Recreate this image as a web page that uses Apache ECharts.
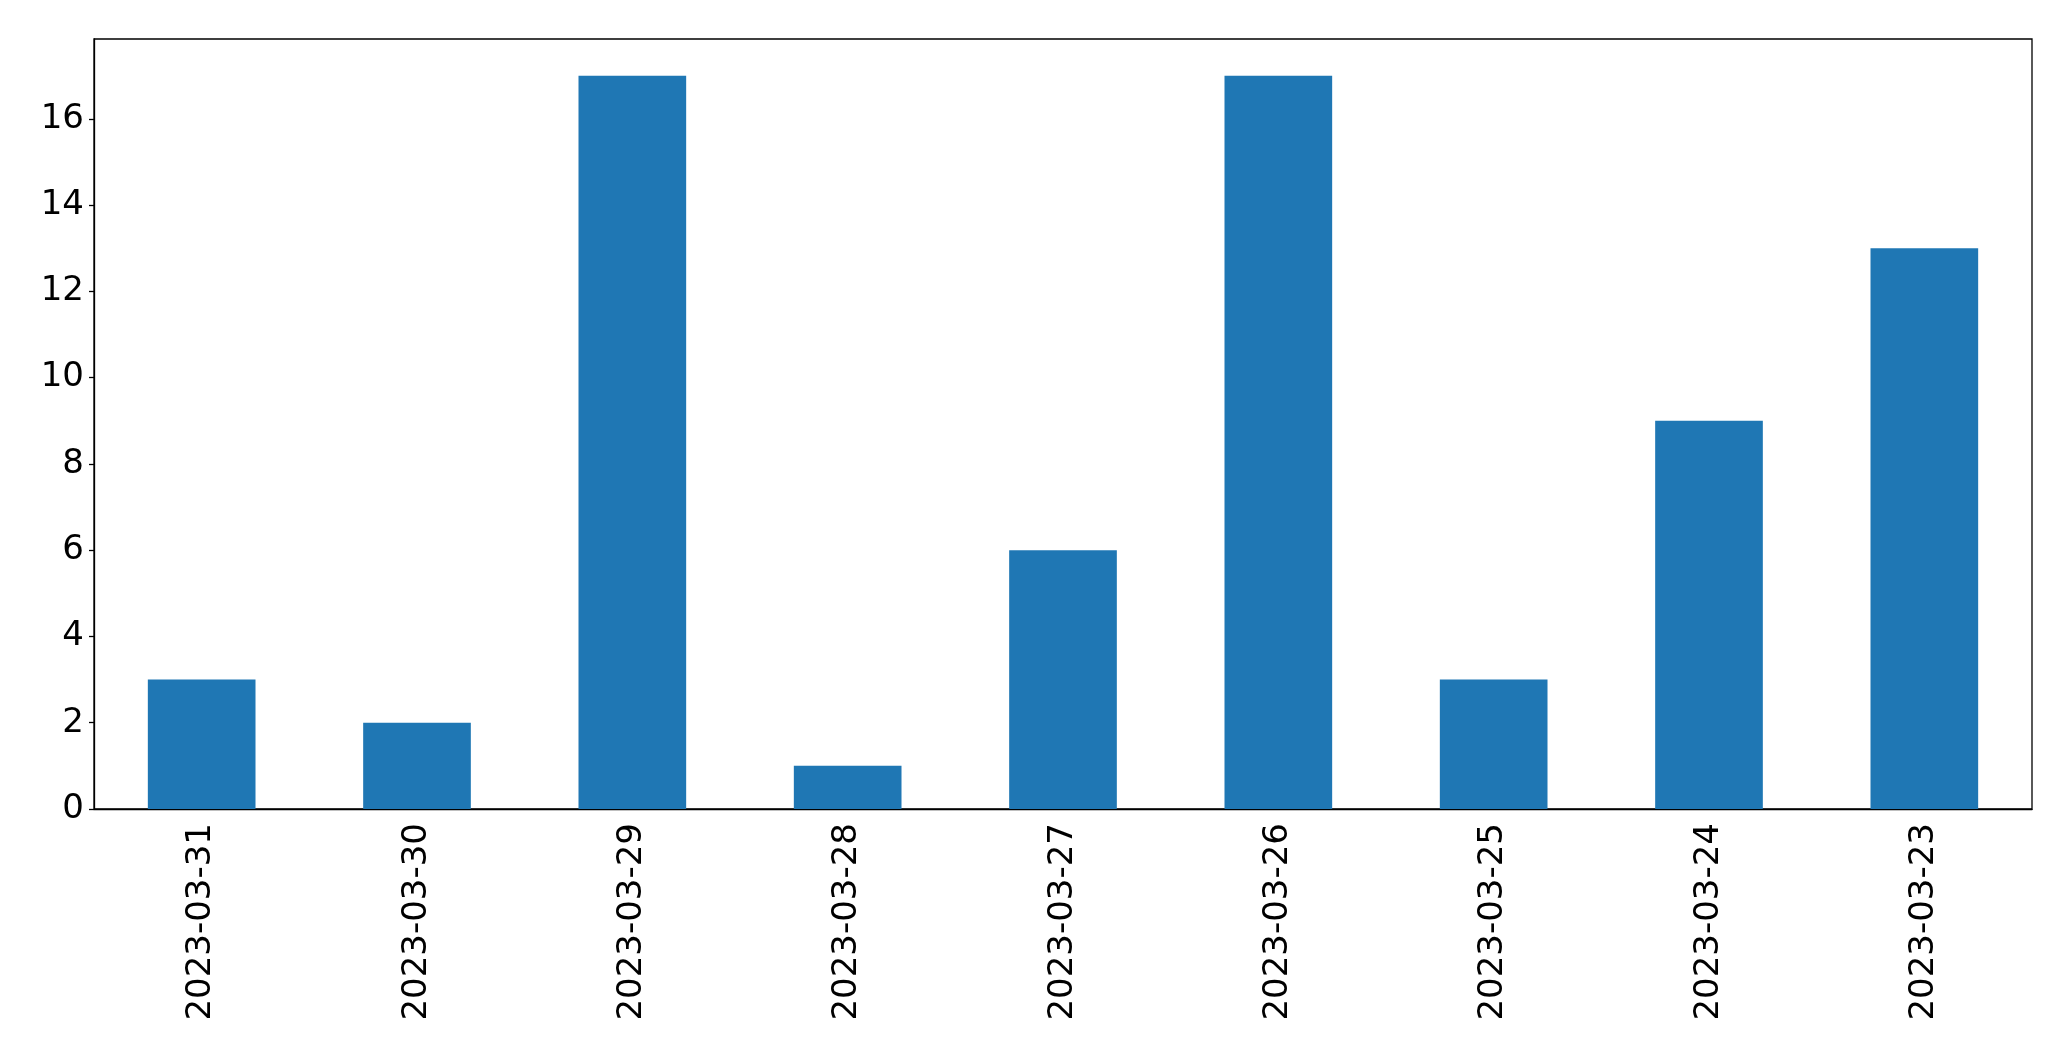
<!DOCTYPE html>
<html>
<head>
<meta charset="utf-8">
<script src="https://cdn.jsdelivr.net/npm/echarts@6/dist/echarts.min.js"></script>
<style>
html,body{margin:0;padding:0;background:#fff;}
#chart{width:2071px;height:1061px;}
</style>
</head>
<body>
<div id="chart"></div>
<script>
const categories = ['2023-03-31','2023-03-30','2023-03-29','2023-03-28','2023-03-27','2023-03-26','2023-03-25','2023-03-24','2023-03-23'];
const values = [3, 2, 17, 1, 6, 17, 3, 9, 13];
const yTicks = [0, 2, 4, 6, 8, 10, 12, 14, 16];

const chart = echarts.init(document.getElementById('chart'));
chart.setOption({
  animation: false,
  backgroundColor: '#ffffff',
  grid: {
    left: 94, right: 39, top: 39, bottom: 252,
    show: true, borderColor: '#000', borderWidth: 1.3, backgroundColor: 'transparent'
  },
  xAxis: {
    type: 'category',
    data: categories,
    boundaryGap: true,
    axisLine: { lineStyle: { color: '#000', width: 1.3 } },
    axisTick: { alignWithLabel: true, length: 5, lineStyle: { color: '#000', width: 1.3 } },
    axisLabel: {
      rotate: 90, margin: 14, color: '#000',
      fontFamily: 'DejaVu Sans', fontSize: 34
    }
  },
  yAxis: {
    type: 'value',
    min: 0, max: 17.85, interval: 2,
    splitLine: { show: false },
    axisLine: { show: true, lineStyle: { color: '#000', width: 1.3 } },
    axisTick: { show: true, length: 5, lineStyle: { color: '#000', width: 1.3 } },
    axisLabel: {
      showMaxLabel: false, margin: 10, color: '#000',
      fontFamily: 'DejaVu Sans', fontSize: 34,
      formatter: function (v) { return yTicks.indexOf(v) >= 0 ? String(v) : ''; }
    }
  },
  series: [{
    type: 'bar',
    data: values,
    barWidth: '50%',
    itemStyle: { color: '#1f77b4' }
  }]
});
</script>
</body>
</html>
